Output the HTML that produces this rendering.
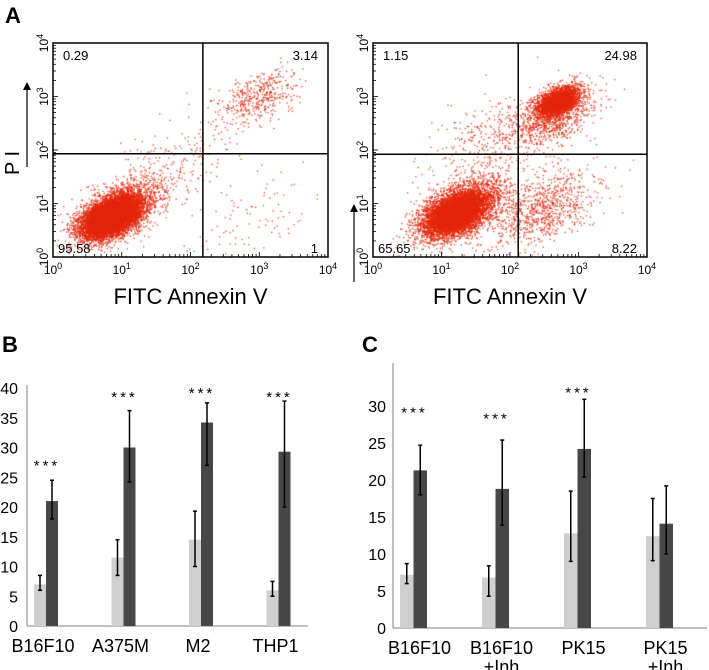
<!DOCTYPE html>
<html><head><meta charset="utf-8"><style>
html,body{margin:0;padding:0;background:#fff;width:709px;height:670px;overflow:hidden;font-family:"Liberation Sans",sans-serif}
#root{position:relative;width:709px;height:670px}
canvas{position:absolute;left:0;top:0}
svg{position:absolute;left:0;top:0}
</style></head><body>
<div id="root">
<canvas id="cv" width="709" height="670"></canvas>
<svg id="sv" width="709" height="670"></svg>
</div>
<script>
// ---- Panel A cluster data (decade units: log10 x, log10 y, sd, count) ----
const leftClusterX=[0.85,0.95,3.0,1.6,2.8];
const leftClusterY=[0.75,0.85,3.0,1.6,0.6];
const leftClusterSd=[0.2,0.28,0.28,0.5,0.5];
const leftClusterN=[9000,2500,450,250,100];
const rightClusterX=[1.2,1.3,2.7,2.65,2.5,1.8];
const rightClusterY=[0.8,0.9,2.9,2.6,0.9,2.2];
const rightClusterSd=[0.22,0.32,0.15,0.3,0.4,0.5];
const rightClusterN=[6000,2500,3000,900,900,400];
const leftQuad=["0.29","3.14","95.58","1"];
const rightQuad=["1.15","24.98","65.65","8.22"];
// ---- Panel B data ----
const bCats=["B16F10","A375M","M2","THP1"];
const bCtrl=[7,11.5,14.5,6];
const bCtrlLo=[6,8.5,10,5];
const bCtrlHi=[8.5,14.5,19.3,7.5];
const bTrt=[21,30,34.2,29.3];
const bTrtLo=[18,24.2,27,20];
const bTrtHi=[24.5,36.2,37.5,37.8];
const bStars=[27.5,39,39.7,39];
const bTicks=[0,5,10,15,20,25,30,35,40];
// ---- Panel C data ----
const cCats=[["B16F10"],["B16F10","+Inh"],["PK15"],["PK15","+Inh"]];
const cCtrl=[7.2,6.8,12.8,12.4];
const cCtrlLo=[6,4.3,9,9.1];
const cCtrlHi=[8.7,8.4,18.5,17.5];
const cTrt=[21.3,18.8,24.2,14.1];
const cTrtLo=[18,13.9,20.4,10];
const cTrtHi=[24.7,25.4,30.9,19.2];
const cStars=[[29.5,true],[28.7,true],[32.2,true],[0,false]];
const cTicks=[0,5,10,15,20,25,30];

const NS="http://www.w3.org/2000/svg";
const sv=document.getElementById('sv');
function mk(tag,attrs,parent,text){const e=document.createElementNS(NS,tag);for(const k in attrs)e.setAttribute(k,attrs[k]);if(text!==undefined)e.textContent=text;(parent||sv).appendChild(e);return e;}

let seed=12345;function rnd(){seed=(seed*1664525+1013904223)%4294967296;return seed/4294967296;}
function gauss(){let u=rnd()||1e-9,v=rnd();return Math.sqrt(-2*Math.log(u))*Math.cos(2*Math.PI*v);}

const ctx=document.getElementById('cv').getContext('2d');
function flowPlot(x0,x1,y0,y1,qx,qy,cx,cy,csd,cn,quad,name){
  const sx=d=>x0+(x1-x0)*d/4, sy=d=>y1-(y1-y0)*d/4;
  ctx.fillStyle='rgba(228,38,10,0.85)';
  for(let c=0;c<cx.length;c++){for(let i=0;i<cn[c];i++){
    const a=gauss(),b=gauss();
    let dx=cx[c]+a*csd[c], dy=cy[c]+(0.45*a+0.8*b)*csd[c];
    if(dx<0.05||dx>3.95||dy<0.0||dy>3.95)continue;
    ctx.fillRect(sx(dx)-0.6,sy(dy)-0.6,1.3,1.3);}}
  const g=mk('g',{});
  
  mk('rect',{x:x0,y:y0,width:x1-x0,height:y1-y0,fill:'none',stroke:'#000','stroke-width':1.5},g);
  mk('line',{x1:sx(qx),x2:sx(qx),y1:y0,y2:y1,stroke:'#000','stroke-width':1.5},g);
  mk('line',{x1:x0,x2:x1,y1:sy(qy),y2:sy(qy),stroke:'#000','stroke-width':1.5},g);
  for(let d=0;d<4;d++)for(let k=1;k<10;k++){const f=d+Math.log10(k);const L=k==1?5:3;
    mk('line',{x1:sx(f),x2:sx(f),y1:y1,y2:y1-L,stroke:'#000','stroke-width':0.8},g);
    mk('line',{x1:x0,x2:x0+L,y1:sy(f),y2:sy(f),stroke:'#000','stroke-width':0.8},g);}
  for(let d=0;d<=4;d++){
    const t=mk('text',{x:sx(d),y:y1+17,'font-size':12,'text-anchor':'middle'},g,'10');
    mk('tspan',{dy:-5,'font-size':9},t,String(d));
    const t2=mk('text',{transform:`translate(${x0-5},${sy(d)}) rotate(-90)`,'font-size':12,'text-anchor':'middle'},g,'10');
    mk('tspan',{dy:-5,'font-size':9},t2,String(d));}
  mk('text',{x:x0+10,y:y0+17,'font-size':13},g,quad[0]);
  mk('text',{x:x1-10,y:y0+17,'font-size':13,'text-anchor':'end'},g,quad[1]);
  mk('text',{x:x0+5,y:y1-4,'font-size':13},g,quad[2]);
  mk('text',{x:x1-10,y:y1-4,'font-size':13,'text-anchor':'end'},g,quad[3]);
  mk('text',{x:(x0+x1)/2,y:304,'font-size':22,'text-anchor':'middle'},g,'FITC Annexin V');
}
flowPlot(53,328,43,257,2.18,1.93,leftClusterX,leftClusterY,leftClusterSd,leftClusterN,leftQuad,'flow-plot-control');
flowPlot(373,647,43,257,2.12,1.92,rightClusterX,rightClusterY,rightClusterSd,rightClusterN,rightQuad,'flow-plot-treated');
mk('line',{x1:27,x2:27,y1:167,y2:88,stroke:'#000','stroke-width':1.2});
mk('path',{d:'M23,90 L27,82 L31,90 Z',fill:'#000'});
mk('line',{x1:354,x2:354,y1:282,y2:210,stroke:'#000','stroke-width':1.2});
mk('path',{d:'M350,212 L354,204 L358,212 Z',fill:'#000'});
const pi=mk('text',{transform:'translate(19,163) rotate(-90)','font-size':20,'text-anchor':'middle'},sv,'P I');

[['A',5,23],['B',2,352],['C',362,352]].forEach(([t,x,y])=>{const e=mk('text',{x:x,y:y,'font-size':22,'font-weight':'bold'},sv,t);});

function barChart(o){
  const g=mk('g',{});
  const y=v=>o.y0-v*o.ppu;
  mk('line',{x1:o.ax,x2:o.ax,y1:o.top,y2:o.y0,stroke:'#aaa','stroke-width':1.5},g);
  mk('line',{x1:o.ax,x2:o.xend,y1:o.y0,y2:o.y0,stroke:'#aaa','stroke-width':1.5},g);
  o.ticks.forEach(t=>mk('text',{x:o.tx,y:y(t)+6,'font-size':16,'text-anchor':'end'},g,String(t)));
  o.cats.forEach((c,i)=>{
    const gx=o.first+i*o.step;
    const b1=mk('rect',{x:gx,y:y(o.ctrl[i]),width:o.bw,height:o.ctrl[i]*o.ppu,fill:'#cfcfcf'},g);
    
    const b2=mk('rect',{x:gx+o.bw,y:y(o.trt[i]),width:o.bw,height:o.trt[i]*o.ppu,fill:'#474747'},g);
    
    [[gx+o.bw/2,o.lo1[i],o.hi1[i]],[gx+1.5*o.bw,o.lo2[i],o.hi2[i]]].forEach(([ex,lo,hi])=>{
      mk('line',{x1:ex,x2:ex,y1:y(lo),y2:y(hi),stroke:'#000','stroke-width':1.5},g);
      mk('line',{x1:ex-2,x2:ex+2,y1:y(lo),y2:y(lo),stroke:'#000','stroke-width':1.5},g);
      mk('line',{x1:ex-2,x2:ex+2,y1:y(hi),y2:y(hi),stroke:'#000','stroke-width':1.5},g);});
    if(o.starsOn[i]) mk('text',{x:gx+o.bw+1,y:y(o.stars[i])+8,'font-size':15,'text-anchor':'middle','letter-spacing':'3'},g,'***');
    const lab=Array.isArray(c)?c:[c];
    lab.forEach((l,k)=>mk('text',{x:gx+o.bw+(o.labOff||0),y:o.y0+26+k*19,'font-size':18,'text-anchor':'middle'},g,l));
  });
}
barChart({name:'chart-b',ax:27,xend:308,y0:626,top:385,ppu:5.95,tx:18,ticks:bTicks,cats:bCats,first:34,step:77.5,bw:12,
  ctrl:bCtrl,trt:bTrt,lo1:bCtrlLo,hi1:bCtrlHi,lo2:bTrtLo,hi2:bTrtHi,stars:bStars,starsOn:[1,1,1,1],labOff:-3});
barChart({name:'chart-c',ax:393,xend:707,y0:628,top:363,ppu:7.4,tx:386,ticks:cTicks,cats:cCats,first:400,step:82,bw:13.5,
  ctrl:cCtrl,trt:cTrt,lo1:cCtrlLo,hi1:cCtrlHi,lo2:cTrtLo,hi2:cTrtHi,stars:cStars.map(s=>s[0]),starsOn:cStars.map(s=>s[1]),labOff:6});
</script>
</body></html>
